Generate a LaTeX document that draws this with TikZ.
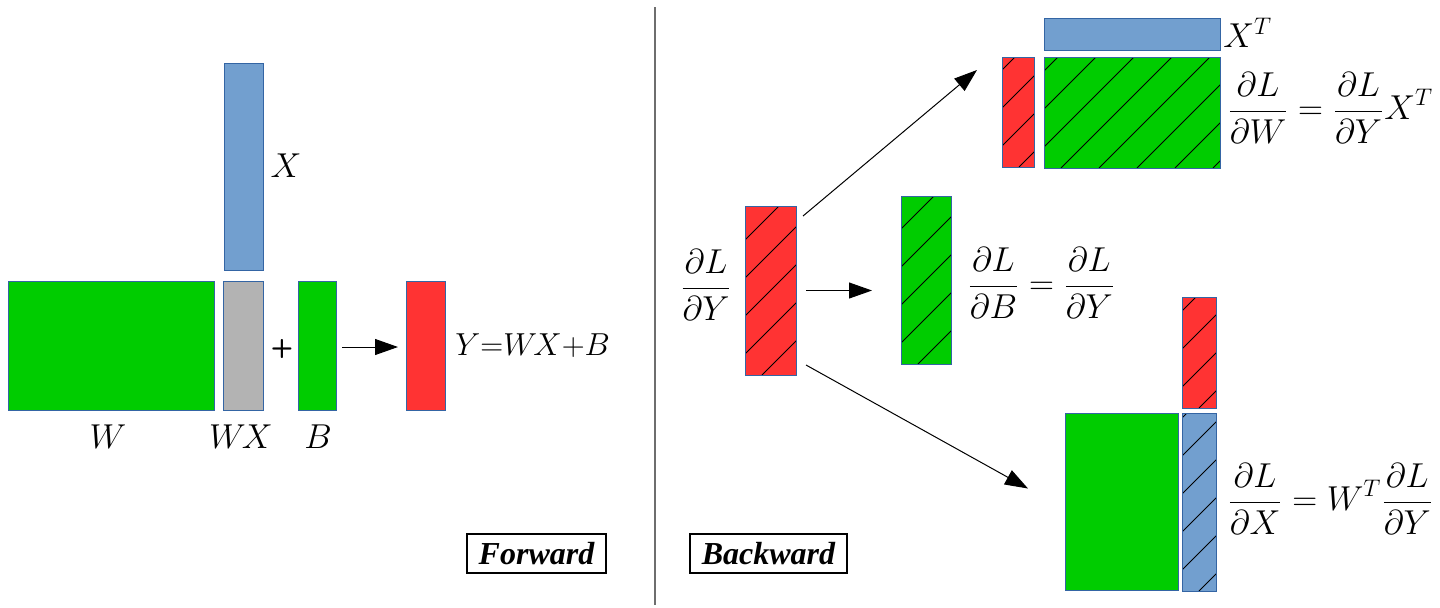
\documentclass[tikz,border=0pt]{standalone}
\usepackage{amsmath}
\usepackage{graphicx}
\usepackage{fontspec}
\newfontfamily\tagfont{Liberation Serif}
\usetikzlibrary{arrows.meta,calc}
\definecolor{mgreen}{HTML}{00CC00}
\definecolor{mred}{HTML}{FF3333}
\definecolor{mblue}{HTML}{729FCF}
\definecolor{mgray}{HTML}{B3B3B3}
\definecolor{edge}{HTML}{3465A4}
\definecolor{divcol}{HTML}{6E6E6E}
\tikzset{
  mat/.style={draw=edge, line width=0.5pt, inner sep=0pt, outer sep=0pt, anchor=north west},
  hatch/.style={path picture={
      \foreach \k in {-12,...,12}{
        \draw[black, line width=0.45pt]
          ($(path picture bounding box.south west)+(\k*19pt+8.5pt,0pt)$) -- ++(120pt,120pt);
      }}},
  arr/.style={-{Triangle[length=11.5pt,width=8pt]}, line width=0.5pt, black},
  lbl/.style={inner sep=0pt, font=\fontsize{17.3}{20}\selectfont},
  eq/.style={inner sep=0pt, font=\fontsize{17.2}{20}\selectfont},
  tag/.style={draw=black, line width=1pt, inner sep=0pt, minimum height=19.5pt,
              font=\fontsize{16}{18}\selectfont\tagfont\bfseries\itshape}
}
\begin{document}
\begin{tikzpicture}[x=0.5pt,y=-0.5pt]
\useasboundingbox (0,0) rectangle (1440,607);

% ---------- Forward ----------
\node[mat, fill=mgreen, minimum width=103pt, minimum height=64.5pt] (W) at (8,281) {};
\node[mat, fill=mgray, minimum width=19.75pt, minimum height=64.5pt] (WX) at (223.5,281) {};
\node[mat, fill=mblue, minimum width=19.25pt, minimum height=103.5pt] (X) at (224.5,63) {};
\node[mat, fill=mgreen, minimum width=19pt, minimum height=64.5pt] (B) at (298,281) {};
\node[mat, fill=mred, minimum width=19.5pt, minimum height=64.5pt] (Y) at (406,281) {};

\node[lbl] (Xl) at (286,166) {$X$};
\node[lbl] (Wl) at (108,437) {$W$};
\node[lbl] (WXl) at (241,437) {$W\mkern-2muX$};
\node[lbl] (Bl) at (318,437) {$B$};
\node[inner sep=0pt, font=\fontsize{13}{15}\selectfont\sffamily\bfseries] (plus) at (282,349) {+};
\node[eq, anchor=west] (Yl) at (455,346) {\scalebox{0.92}{$Y{=}W\mkern-2muX{+}B$}};

\draw[arr, shorten <=3pt, shorten >=4pt] (B.east |- 0,347) coordinate (fa) -- (Y.west |- fa);

\node[tag, minimum width=69.5pt] (fwd) at (536.5,553.5) {Forward};

% divider
\coordinate (dtop) at (655,7);
\coordinate (dbot) at (655,605);
\draw[divcol, line width=0.6pt] (dtop) -- (dbot);

% ---------- Backward ----------
\node[tag, minimum width=78.5pt] (bwd) at (768.5,553.5) {Backward};

\node[mat, fill=mred, hatch, minimum width=25.5pt, minimum height=84.5pt] (dY) at (745,206) {};
\node[eq] (dYl) at (706,285) {$\displaystyle\frac{\partial L}{\partial Y}$};

\node[mat, fill=mgreen, hatch, minimum width=25pt, minimum height=84pt] (dB) at (901,196) {};
\node[eq, anchor=west] (dBl) at (967,283) {$\displaystyle\frac{\partial L}{\partial B}=\frac{\partial L}{\partial Y}$};

% top group
\node[mat, fill=mblue, minimum width=88pt, minimum height=16pt] (XT) at (1044,18) {};
\node[mat, fill=mred, hatch, minimum width=16pt, minimum height=55pt] (dYt) at (1002,57) {};
\node[mat, fill=mgreen, hatch, minimum width=88pt, minimum height=55.5pt] (dW) at (1044,57) {};
\node[eq, anchor=west] (XTl) at (1223,33) {$X^T$};
\node[eq, anchor=west] (dWl) at (1227,108) {$\displaystyle\frac{\partial L}{\partial W}=\frac{\partial L}{\partial Y}X^T$};

% bottom group
\node[mat, fill=mred, hatch, minimum width=17pt, minimum height=55.5pt] (dYb) at (1182,297) {};
\node[mat, fill=mgreen, minimum width=56.5pt, minimum height=88.5pt] (Wb) at (1065,413) {};
\node[mat, fill=mblue, hatch, minimum width=17pt, minimum height=89pt] (dX) at (1182,413) {};
\node[eq, anchor=west] (dXl) at (1227,499) {$\displaystyle\frac{\partial L}{\partial X}=W^T\frac{\partial L}{\partial Y}$};

% arrows
\draw[arr] ($(dY.north east)+(7,10)$) -- ($(dYt.west)+(-25,-42)$);
\draw[arr] ($(dY.east)+(10,0)$) coordinate (ma) -- (dB.west |- ma) [shorten >=14.5pt];
\draw[arr] ($(dY.south east)+(10,-10)$) -- ($(Wb.west)+(-37,-13)$);
\end{tikzpicture}
\end{document}
